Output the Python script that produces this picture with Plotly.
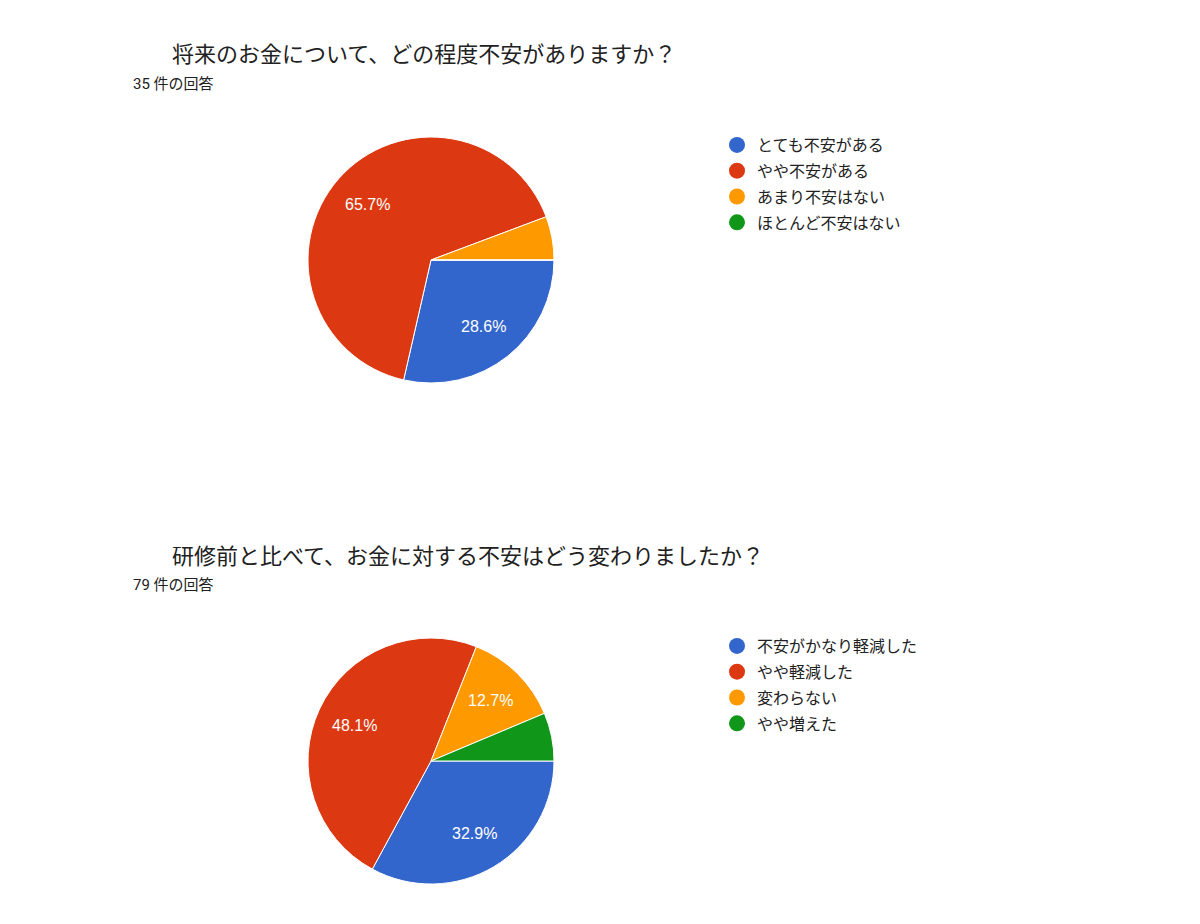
import math
import plotly.graph_objects as go

# ---- data ----
q1_title = "将来のお金について、どの程度不安がありますか？"
q1_count_label = "35 件の回答"
q1_labels = ["とても不安がある", "やや不安がある", "あまり不安はない", "ほとんど不安はない"]
q1_values = [10, 23, 2, 0]

q2_title = "研修前と比べて、お金に対する不安はどう変わりましたか？"
q2_count_label = "79 件の回答"
q2_labels = ["不安がかなり軽減した", "やや軽減した", "変わらない", "やや増えた"]
q2_values = [26, 38, 10, 5]

# ---- style ----
COLORS = ["#3366CC", "#DC3912", "#FF9900", "#109618"]
FONT = "Roboto, 'Noto Sans CJK JP', Arial, sans-serif"
LABEL_FONT = "Arial, 'Liberation Sans', sans-serif"
TEXT_COLOR = "#212121"
LABEL_MIN_SHARE = 0.1
LABEL_RADIUS = 0.69
W, H = 1200, 924
OFFSET = 8  # page body margin


def px_x(x):
    return (x - OFFSET) / W


def px_y(y):
    return 1 - (y - OFFSET) / H


fig = go.Figure()
annotations = []

pies = [
    (q1_labels, q1_values, (431, 260), 123),
    (q2_labels, q2_values, (431, 761), 123),
]
for labels, values, (cx, cy), r in pies:
    fig.add_trace(go.Pie(
        labels=labels, values=values, sort=False, direction="clockwise", rotation=90,
        marker=dict(colors=COLORS, line=dict(color="white", width=1)),
        textinfo="none", showlegend=False, hoverinfo="label+percent",
        domain=dict(x=[px_x(cx - r), px_x(cx + r)], y=[px_y(cy + r), px_y(cy - r)]),
    ))
    # slice labels at a fixed fraction of the radius along each slice's mid-angle
    tot = sum(values)
    start = 0.0
    for v in values:
        share = v / tot
        mid = (start + share / 2) * 2 * math.pi  # clockwise from 3 o'clock
        start += share
        if share < LABEL_MIN_SHARE:
            continue
        lx = cx + LABEL_RADIUS * r * math.cos(mid)
        ly = cy + LABEL_RADIUS * r * math.sin(mid)
        annotations.append(dict(
            text=f"{share * 100:.1f}%", x=px_x(lx), y=px_y(ly), xref="paper", yref="paper",
            xanchor="center", yanchor="middle", showarrow=False,
            font=dict(family=LABEL_FONT, size=16, color="white")))

# legend entries (circle markers)
for li, (labels, legend_name) in enumerate([(q1_labels, "legend"), (q2_labels, "legend2")]):
    for i, lab in enumerate(labels):
        fig.add_trace(go.Scatter(
            x=[None], y=[None], mode="markers", name=lab,
            marker=dict(symbol="circle", size=16, color=COLORS[i]),
            legend=legend_name, legendgroup=f"g{li}_{i}", showlegend=True,
            hoverinfo="skip",
        ))

legend_common = dict(
    xanchor="left", yanchor="top", bgcolor="rgba(0,0,0,0)",
    font=dict(family=FONT, size=16, color=TEXT_COLOR),
    traceorder="grouped", tracegroupgap=2, itemclick=False, itemdoubleclick=False,
)
fig.update_layout(
    legend=dict(x=px_x(717), y=px_y(128), **legend_common),
    legend2=dict(x=px_x(717), y=px_y(629), **legend_common),
)

for title, sub, ty, sy in [(q1_title, q1_count_label, 55, 84), (q2_title, q2_count_label, 556, 585)]:
    annotations.append(dict(text=title, x=px_x(170), y=px_y(ty), xref="paper", yref="paper",
                            xanchor="left", yanchor="middle", showarrow=False,
                            font=dict(family=FONT, size=22, color=TEXT_COLOR)))
    annotations.append(dict(text=sub, x=px_x(131), y=px_y(sy), xref="paper", yref="paper",
                            xanchor="left", yanchor="middle", showarrow=False,
                            font=dict(family=FONT, size=15, color=TEXT_COLOR)))

fig.update_layout(
    width=W, height=H, margin=dict(l=0, r=0, t=0, b=0),
    paper_bgcolor="white", plot_bgcolor="white",
    xaxis=dict(visible=False), yaxis=dict(visible=False),
    annotations=annotations, font=dict(family=FONT),
)

fig.write_html("out.html")
